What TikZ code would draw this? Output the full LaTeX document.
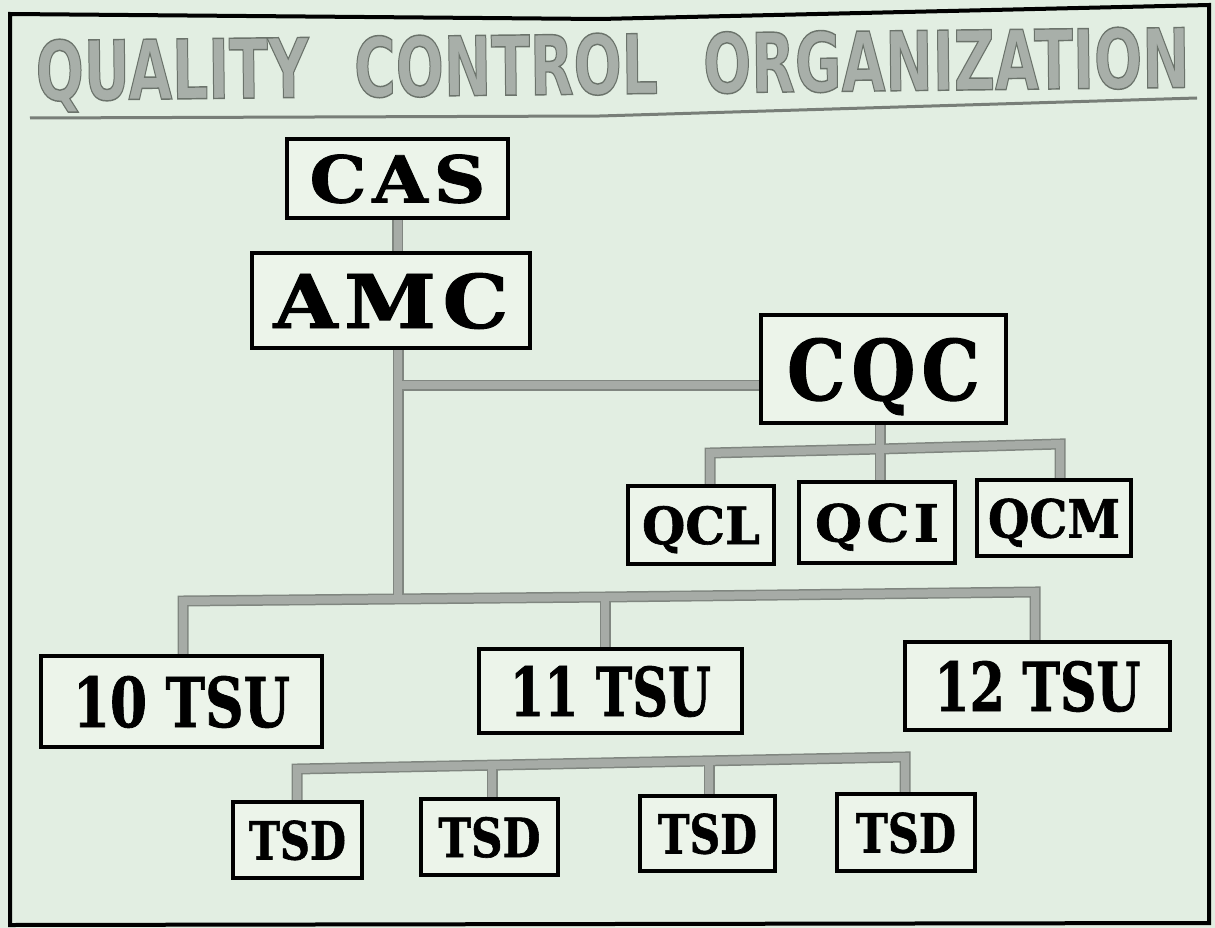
\documentclass[tikz,border=0pt]{standalone}
\usepackage{fontspec}
\usepackage{graphicx}
\setmainfont{DejaVu Serif}
\newfontfamily\boxfontw[LetterSpace=8,FakeBold=1.2]{DejaVu Serif}
\newfontfamily\boxfontn[FakeBold=1.2]{DejaVu Serif}
\newfontfamily\titlefont{DejaVu Sans}
\usetikzlibrary{calc}
\pgfdeclarelayer{back}
\pgfdeclarelayer{bg}
\pgfsetlayers{back,bg,main}

\definecolor{bgc}{RGB}{226,238,226}
\definecolor{boxfill}{RGB}{236,244,234}
\definecolor{connc}{RGB}{166,171,166}
\definecolor{connedge}{RGB}{128,134,128}
\definecolor{titlefill}{RGB}{168,175,169}
\definecolor{titleedge}{RGB}{120,126,120}

\newcommand\lblw[3]{\resizebox{#1pt}{#2pt}{\boxfontw\bfseries #3}}
\newcommand\lbln[3]{\resizebox{#1pt}{#2pt}{\boxfontn\bfseries #3}}
\newcommand\titletext{QUALITY\hspace{0.8em}CONTROL\hspace{0.8em}ORGANIZATION}
\newlength\titlew

\tikzset{
  orgbox/.style={draw=black, line width=4.5pt, fill=boxfill, inner sep=0pt,
    text depth=0pt, align=center},
  connout/.style={draw=connedge, line width=11pt, line join=miter},
  connin/.style={draw=connc, line width=8pt, line join=miter},
}

\newcommand\drawconns[1]{%
  \draw[#1] (cas.south) -- (cas.south |- amc.north);
  \draw[#1] (amc.south -| j1) -- (j2);
  \draw[#1] (j1) -- (j1 -| cqc.west);
  \draw[#1] (qbM |- cqc.south) -- (qbM |- qci.north);
  \draw[#1] (qbL |- qcl.north) -- (qbL) -- (qbM) -- (qbR) -- (qbR |- qcm.north);
  \draw[#1] (tbL |- tsuA.north) -- (tbL) -- (tbM) -- (tbR) -- (tbR |- tsuC.north);
  \draw[#1] (tbM) -- (tbM |- tsuB.north);
  \draw[#1] (dbA |- tsdA.north) -- (dbA) -- (dbD) -- (dbD |- tsdD.north);
  \draw[#1] (dbB) -- (dbB |- tsdB.north);
  \draw[#1] (dbC) -- (dbC |- tsdC.north);
}

\begin{document}
\settowidth\titlew{\titlefont\bfseries\fontsize{80}{80}\selectfont\titletext}
\begin{tikzpicture}[x=1pt,y=-1pt]
\pgfmathsetmacro\xs{1154pt/\titlew}
\useasboundingbox (0,0) rectangle (1215,928);
\begin{pgfonlayer}{back}
\fill[bgc] (0,0) rectangle (1215,928);
\end{pgfonlayer}

% frame
\draw[line width=4pt, line join=miter] (10,14) -- (600,19) -- (1209,5) -- (1209,923) -- (10,925) -- cycle;

% title
\node[anchor=base, rotate=0.65, text=titlefill, inner sep=0pt] (title) at (613,94)
  {\scalebox{\xs}[1.03]{\fontsize{80}{80}\selectfont\titlefont\bfseries\special{pdf:code 2 Tr 1.4 w 0.42 0.45 0.42 RG}\titletext\special{pdf:code 0 Tr}}};
\draw[titleedge, line width=3pt] (30,118) -- (600,116) -- (1197,98);

% boxes
\node[orgbox, minimum width=221pt, minimum height=79pt] (cas) at (397.5,178.5) {\lblw{176}{48}{CAS}};
\node[orgbox, minimum width=278pt, minimum height=95pt] (amc) at (391,300.5) {\lblw{235}{55}{AMC}};
\node[orgbox, minimum width=245pt, minimum height=108pt] (cqc) at (883.5,369) {\lblw{193}{62}{CQC}};
\node[orgbox, minimum width=146pt, minimum height=78pt] (qcl) at (701,525) {\lbln{118}{38}{QCL}};
\node[orgbox, minimum width=156pt, minimum height=81pt] (qci) at (877,522.5) {\lblw{124}{38}{QCI}};
\node[orgbox, minimum width=154pt, minimum height=76pt] (qcm) at (1054,518) {\lbln{132}{39}{QCM}};
\node[orgbox, minimum width=281pt, minimum height=91pt] (tsuA) at (181.5,701.5) {\lbln{217}{51}{10 TSU}};
\node[orgbox, minimum width=263pt, minimum height=84pt] (tsuB) at (610.5,691) {\lbln{201}{50}{11 TSU}};
\node[orgbox, minimum width=265pt, minimum height=88pt] (tsuC) at (1037.5,686) {\lbln{206}{50}{12 TSU}};
\node[orgbox, minimum width=129pt, minimum height=76pt] (tsdA) at (297.5,840) {\lbln{97}{39}{TSD}};
\node[orgbox, minimum width=137pt, minimum height=76pt] (tsdB) at (489.5,837) {\lbln{102}{40}{TSD}};
\node[orgbox, minimum width=135pt, minimum height=75pt] (tsdC) at (707.5,833.5) {\lbln{99}{40}{TSD}};
\node[orgbox, minimum width=138pt, minimum height=77pt] (tsdD) at (906,832.5) {\lbln{100}{40}{TSD}};

% junction coordinates
\coordinate (j1) at (398,385);
\coordinate (j2) at (398,599);
\coordinate (qbL) at (710,453);
\coordinate (qbM) at (880,449);
\coordinate (qbR) at (1060,444);
\coordinate (tbL) at (183,601);
\coordinate (tbM) at (605,597);
\coordinate (tbR) at (1035,592);
\coordinate (dbA) at (297,769);
\coordinate (dbB) at (492,765);
\coordinate (dbC) at (709,761);
\coordinate (dbD) at (905,757);

\begin{pgfonlayer}{bg}
\drawconns{connout}
\drawconns{connin}
\end{pgfonlayer}
\end{tikzpicture}
\end{document}
